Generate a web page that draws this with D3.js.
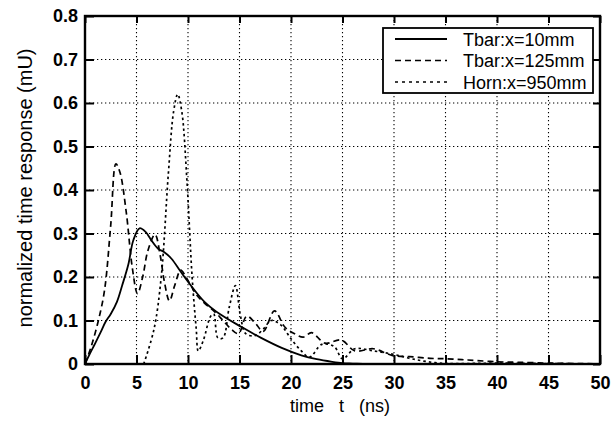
<!DOCTYPE html>
<html>
<head>
<meta charset="utf-8">
<script src="https://cdn.jsdelivr.net/npm/d3@7"></script>
<style>
body{margin:0;background:#fff;}
svg{font-family:"Liberation Sans",Arial,Helvetica,sans-serif;}
</style>
</head>
<body>
<svg id="chart" width="614" height="422"></svg>
<script>
// values (t in ns, response in mU)
var tTbar10=[0,0.5,1,1.5,2,2.5,3.1,3.6,4.2,4.7,5.3,5.9,6.4,7.1,7.7,8.4,9.3,10.3,11.6,13.2,15.2,17.1,19.1,21,22.5,24,25,26,27];
var vTbar10=[0,0.025,0.048,0.072,0.097,0.115,0.143,0.18,0.228,0.285,0.312,0.303,0.286,0.265,0.257,0.242,0.212,0.18,0.143,0.113,0.085,0.06,0.037,0.02,0.011,0.005,0.002,0.001,0];

var tTbar125=[0,0.6,1.3,1.9,2.5,3.0,3.4,4.0,4.6,5.1,5.6,6.1,6.8,7.3,7.7,8.2,8.7,9.3,9.8,10.8,11.6,12.6,13.4,14.2,14.9,15.7,16.5,17.3,18.4,19.4,20.3,21.2,22.0,23.3,24.9,26.2,28.0,29.8,31.5,33.5,35,36.6,38,40,42,45,48,50];
var vTbar125=[0,0.04,0.1,0.17,0.32,0.46,0.44,0.35,0.22,0.162,0.2,0.26,0.298,0.25,0.19,0.145,0.18,0.216,0.2,0.16,0.14,0.12,0.1,0.08,0.07,0.11,0.095,0.075,0.122,0.085,0.07,0.062,0.072,0.048,0.055,0.03,0.035,0.02,0.017,0.013,0.012,0.01,0.008,0.005,0.004,0.002,0.001,0];

var tHorn=[5.7,6.7,7.4,8.1,8.6,9.0,9.4,9.9,10.4,10.8,11.0,11.5,12.2,12.5,12.9,13.4,14.0,14.6,15.1,15.6,16.5,17.3,18.1,19.0,20.0,21.0,21.8,23.0,24.2,25.0,26.2,28,29.8,31.7,34,36,40,45,50];
var vHorn=[0,0.08,0.2,0.44,0.58,0.62,0.58,0.42,0.2,0.08,0.03,0.055,0.11,0.115,0.06,0.06,0.13,0.18,0.11,0.07,0.065,0.08,0.1,0.09,0.058,0.03,0.016,0.045,0.04,0.012,0.035,0.03,0.023,0.012,0.003,0.001,0.002,0.001,0];

var xTicks=[0,5,10,15,20,25,30,35,40,45,50];
var yTicks=[0,0.1,0.2,0.3,0.4,0.5,0.6,0.7,0.8];
var seriesNames=["Tbar:x=10mm","Tbar:x=125mm","Horn:x=950mm"];

var pLeft=85, pRight=600, pTop=16, pBottom=364;

var svg=d3.select('#chart');

var x=d3.scaleLinear().domain([0,50]).range([pLeft,pRight]);
var y=d3.scaleLinear().domain([0,0.8]).range([pBottom,pTop]);

// dotted grid
var grid=svg.append('g').attr('class','grid');
grid.selectAll('line.gx')
	.data(xTicks.slice(1,-1))
	.enter().append('line').attr('class','gx')
	.attr('x1',function(d){return x(d)}).attr('x2',function(d){return x(d)})
	.attr('y1',pTop).attr('y2',pBottom);
grid.selectAll('line.gy')
	.data(yTicks.slice(1,-1))
	.enter().append('line').attr('class','gy')
	.attr('x1',pLeft).attr('x2',pRight)
	.attr('y1',function(d){return y(d)}).attr('y2',function(d){return y(d)});
grid.selectAll('line')
	.attr('stroke','#000')
	.attr('stroke-width',1.1)
	.attr('stroke-dasharray','1.3,2.7');

svg.append('defs').append('clipPath').attr('id','plotClip')
	.append('rect').attr('x',pLeft).attr('y',pTop).attr('width',pRight-pLeft).attr('height',pBottom-pTop);

function makeLine(ts,vs)
{
	var pts=ts.map(function(t,i){return [t,vs[i]]});
	return d3.line()
		.x(function(d){return x(d[0])})
		.y(function(d){return y(d[1])})
		.curve(d3.curveCatmullRom.alpha(0.5))(pts);
}

var styles=[
	{dash:null, w:1.8},
	{dash:'6,4', w:1.7},
	{dash:'2.5,3', w:1.7}
];

var curves=svg.append('g').attr('clip-path','url(#plotClip)');
var allT=[tTbar10,tTbar125,tHorn];
var allV=[vTbar10,vTbar125,vHorn];
for(var i=0;i<3;i++)
{
	curves.append('path')
		.attr('d',makeLine(allT[i],allV[i]))
		.attr('fill','none')
		.attr('stroke','#000')
		.attr('stroke-width',styles[i].w)
		.attr('stroke-dasharray',styles[i].dash);
}

// axes, ticks pointing inward on all four sides
function styleAxis(g)
{
	g.select('.domain').remove();
	g.selectAll('.tick line').attr('stroke','#000').attr('stroke-width',2);
	g.selectAll('.tick text').attr('fill','#000').attr('font-size',18).attr('font-weight','bold');
}

svg.append('g')
	.attr('transform','translate(0,'+pBottom+')')
	.call(d3.axisBottom(x).tickValues(xTicks).tickFormat(d3.format('d')).tickSizeInner(-9).tickSizeOuter(0).tickPadding(12))
	.call(styleAxis);
svg.append('g')
	.attr('transform','translate('+pLeft+',0)')
	.call(d3.axisLeft(y).tickValues(yTicks).tickFormat(function(d){return d==0?'0':d3.format('.1f')(d)}).tickSizeInner(-9).tickSizeOuter(0).tickPadding(7))
	.call(styleAxis);
svg.append('g')
	.attr('transform','translate(0,'+pTop+')')
	.call(d3.axisTop(x).tickValues(xTicks).tickFormat('').tickSizeInner(-7).tickSizeOuter(0))
	.call(styleAxis);
svg.append('g')
	.attr('transform','translate('+pRight+',0)')
	.call(d3.axisRight(y).tickValues(yTicks).tickFormat('').tickSizeInner(-7).tickSizeOuter(0))
	.call(styleAxis);

svg.append('rect')
	.attr('x',pLeft).attr('y',pTop)
	.attr('width',pRight-pLeft).attr('height',pBottom-pTop)
	.attr('fill','none').attr('stroke','#000').attr('stroke-width',2.4);

// legend
var lg=svg.append('g').attr('transform','translate(383,28)');
lg.append('rect').attr('width',210).attr('height',65)
	.attr('fill','#fff').attr('stroke','#000').attr('stroke-width',1.8);
for(var j=0;j<3;j++)
{
	var ly=11+j*21.5;
	lg.append('line')
		.attr('x1',12).attr('x2',64).attr('y1',ly).attr('y2',ly)
		.attr('stroke','#000')
		.attr('stroke-width',styles[j].w)
		.attr('stroke-dasharray',j==2?'3,4':styles[j].dash);
	lg.append('text')
		.attr('x',80).attr('y',ly+6.5)
		.attr('font-size',18)
		.text(seriesNames[j]);
}

// axis titles
svg.append('text')
	.attr('x',340).attr('y',412)
	.attr('text-anchor','middle')
	.attr('font-size',18)
	.style('white-space','pre')
	.text('time   t   (ns)');
svg.append('text')
	.attr('transform','translate(32,188) rotate(-90)')
	.attr('text-anchor','middle')
	.attr('font-size',20)
	.text('normalized time response (mU)');
</script>
</body>
</html>
